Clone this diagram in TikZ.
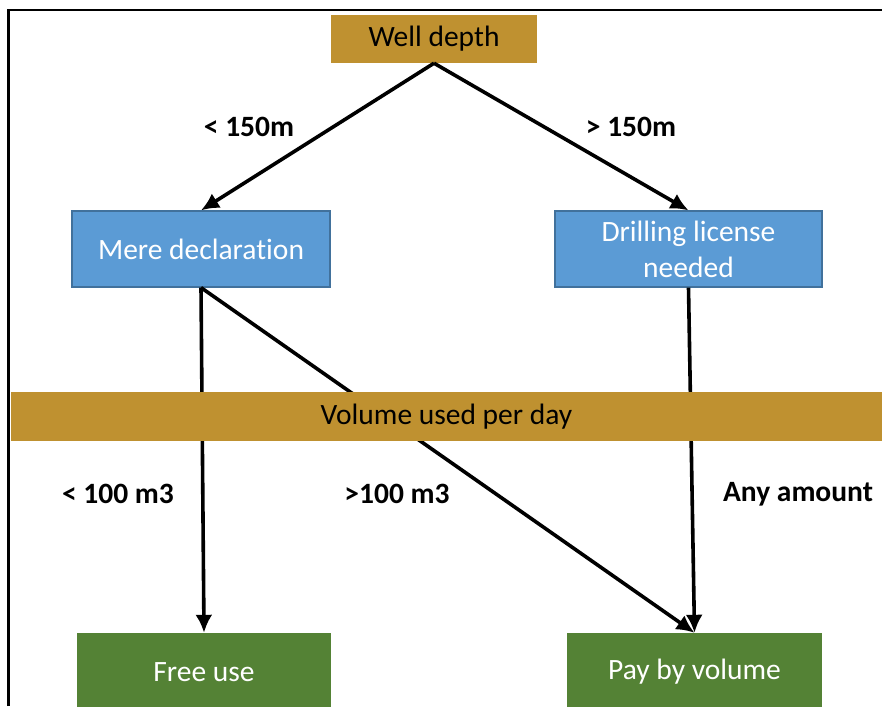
\documentclass[tikz,border=0pt]{standalone}
\usepackage{fontspec}
\setmainfont{Carlito}[RawFeature={-liga;-dlig}]
\usetikzlibrary{arrows.meta}
\definecolor{gold}{HTML}{BF9130}
\definecolor{lblue}{HTML}{5B9BD5}
\definecolor{dblue}{HTML}{41719C}
\definecolor{lgreen}{HTML}{548235}
\newcommand{\fsz}{\fontsize{29.5}{36}\selectfont}
\tikzset{
  goldbox/.style={fill=gold,inner sep=0pt,font=\fsz},
  bluebox/.style={fill=lblue,draw=dblue,line width=1.2pt,text=white,inner sep=0pt,align=center,font=\fsz},
  greenbox/.style={fill=lgreen,text=white,inner sep=0pt,font=\fsz},
  cond/.style={font=\fsz\bfseries},
  flow/.style={line width=3.6pt,-{Latex[length=18pt,width=17pt]}}
}
\begin{document}
\begin{tikzpicture}[x=1pt,y=-1pt]
  \useasboundingbox (0,0) rectangle (882,706);
  % frame
  \draw[line width=2.2pt] (8.5,706) -- (8.5,10) -- (882,10);
  % boxes
  \node[goldbox,minimum width=206pt,minimum height=48pt] (depth) at (434,39) {Well depth};
  \node[bluebox,minimum width=258pt,minimum height=76pt] (mere) at (201,249) {Mere declaration};
  \node[bluebox,minimum width=267pt,minimum height=76pt] (drill) at (688.5,249) {Drilling license\\needed};
  \node[greenbox,minimum width=254pt,minimum height=78pt] (free) at (204,672) {Free use};
  \node[greenbox,minimum width=255pt,minimum height=78pt] (pay) at (694.5,672) {Pay by volume};
  % arrows
  \draw[flow] (depth.south) -- (mere.north);
  \draw[flow] (depth.south) -- (drill.north);
  \draw[flow] (mere.south) -- (free.north);
  \draw[flow] (mere.south) -- (pay.north);
  \draw[flow] (drill.south) -- (pay.north);
  % band over the arrows
  \node[goldbox,minimum width=871pt,minimum height=49pt] (volume) at (446.5,416.5) {Volume used per day};
  % conditions
  \node[cond] (lt150) at (249,127) {< 150m};
  \node[cond] (gt150) at (631,127) {> 150m};
  \node[cond] (lt100) at (118,494) {< 100 m3};
  \node[cond] (gt100) at (397,494) {>100 m3};
  \node[cond] (any) at (798,494) {Any amount};
\end{tikzpicture}
\end{document}
